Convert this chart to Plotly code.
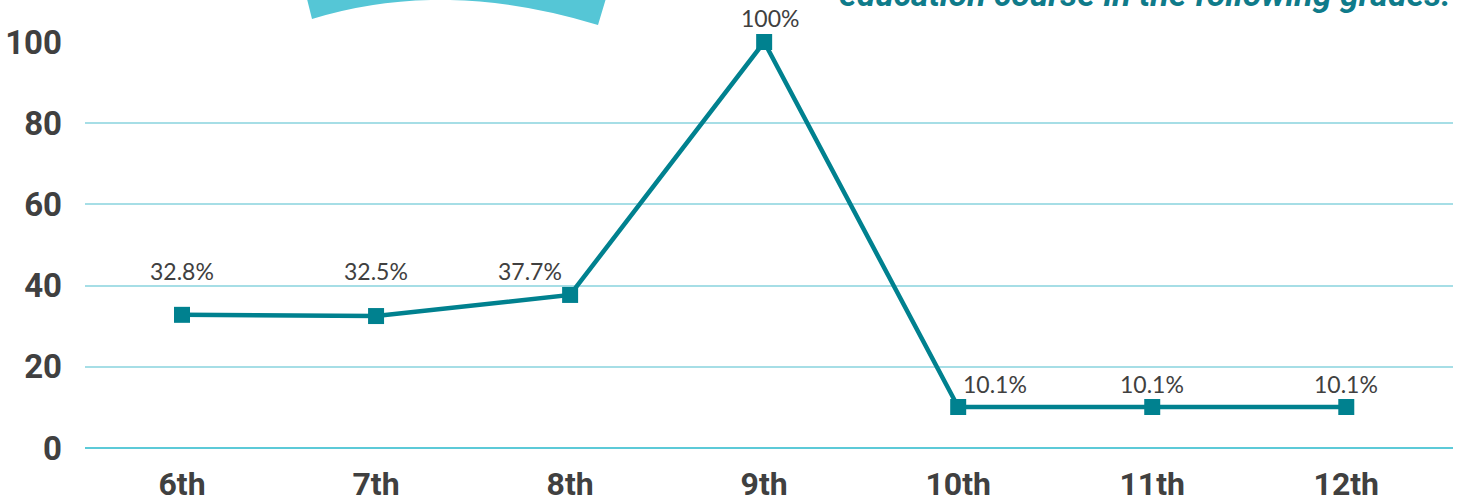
import plotly.graph_objects as go

grades = ["6th", "7th", "8th", "9th", "10th", "11th", "12th"]
percent = [32.8, 32.5, 37.7, 100, 10.1, 10.1, 10.1]
label_text = ["32.8%", "32.5%", "37.7%", "100%", "10.1%", "10.1%", "10.1%"]
y_ticks = [0, 20, 40, 60, 80, 100]

# label placement offsets (pixels)
label_dx = [0, 0, -40, 6, 37, 0, 0]
label_dy = [44, 45, 24, 24, 23, 23, 23]

W, H = 1461, 504
L, R, T, B = 85, 8, 42, 56
PW, PH = W - L - R, H - T - B

def px(x):
    return (x - L) / PW

def py(y):
    return (H - B - y) / PH

LINE = "#00818F"
TEXT = "#404040"

fig = go.Figure()
fig.add_trace(go.Scatter(
    x=grades, y=percent, mode="lines+markers",
    line=dict(color=LINE, width=4.5),
    marker=dict(symbol="square", size=16, color=LINE),
    cliponaxis=False, showlegend=False, hoverinfo="skip",
))

for g, v, t, dx, dy in zip(grades, percent, label_text, label_dx, label_dy):
    fig.add_annotation(x=g, y=v, text=t, showarrow=False,
                       xshift=dx, yshift=dy,
                       font=dict(family="Lato", size=23, color=TEXT))

# decorative arc at top
p0 = (306, -5); p1 = (607, -5); p2 = (598, 25); c = (445, -22); p3 = (312, 19)
path = (f"M {px(p0[0])},{py(p0[1])} L {px(p1[0])},{py(p1[1])} "
        f"L {px(p2[0])},{py(p2[1])} Q {px(c[0])},{py(c[1])} {px(p3[0])},{py(p3[1])} Z")
fig.add_shape(type="path", xref="paper", yref="paper", path=path,
              fillcolor="#55C6D6", line=dict(width=0), layer="above")

fig.add_annotation(xref="paper", yref="paper", x=px(1453), y=py(-6),
                   xanchor="right", yanchor="middle", showarrow=False,
                   text="<b><i>education course in the following grades.</i></b>",
                   font=dict(family="Roboto", size=34, color="#0F7B8A"))

fig.update_layout(
    width=W, height=H,
    margin=dict(l=L, r=R, t=T, b=B, autoexpand=False),
    paper_bgcolor="white", plot_bgcolor="white",
    xaxis=dict(type="category", range=[-0.5, 6.55], showgrid=False,
               zeroline=False, showline=False, ticks="",
               tickfont=dict(family="Roboto", size=32, color=TEXT, weight="bold"),
               ticklabelstandoff=14),
    yaxis=dict(range=[0, 100], tickvals=y_ticks, showgrid=True,
               gridcolor="#A6DEE6", gridwidth=1.5,
               zeroline=True, zerolinecolor="#5CCAD8", zerolinewidth=2,
               showline=False, ticks="",
               tickfont=dict(family="Roboto", size=33, color=TEXT, weight="bold"),
               ticklabelstandoff=22),
)

fig.write_html("out.html", config={"displayModeBar": False},
               post_script="document.body.style.margin='0';document.body.style.overflow='hidden';")
